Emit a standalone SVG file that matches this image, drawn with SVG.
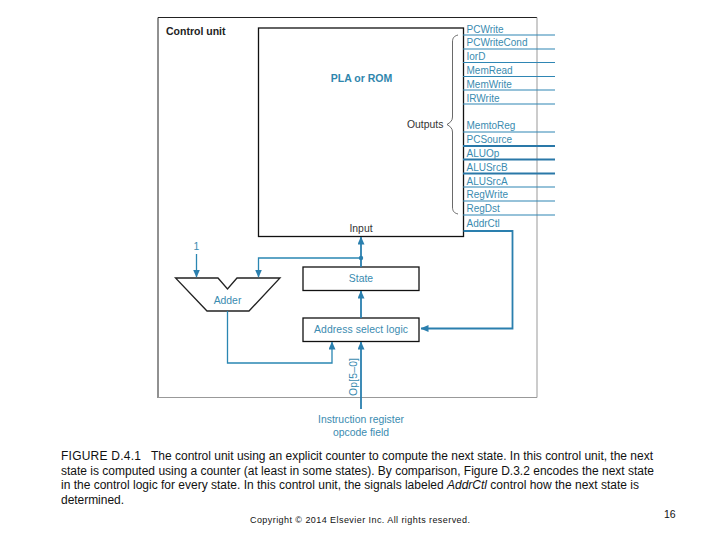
<svg xmlns="http://www.w3.org/2000/svg" width="720" height="540" viewBox="0 0 720 540">
<style>
text{font-family:"Liberation Sans",Arial,sans-serif}
.b{font-size:10px;fill:#3a8bb0}
.c{font-size:10.400px;fill:#3a8bb0}
.k{font-size:10.400px;fill:#333}
.t{font-size:12px;fill:#111}
.box{fill:#fff;stroke:#111;stroke-width:1.300}
.w{fill:none;stroke:#2a86b2;stroke-width:1.300}
.h{fill:none;stroke:#2a7fae;stroke-width:1.800}
.o{stroke:#2f86b4;stroke-width:1.100}
.ot{stroke:#2a78a8;stroke-width:1.800}
</style>
<defs>
<marker id="a" markerUnits="userSpaceOnUse" markerWidth="8" markerHeight="10" refX="7.500" refY="3.500" orient="auto"><path d="M0,0L8,3.500L0,7z" fill="#2a7fae"/></marker>
</defs>
<rect width="720" height="540" fill="#fff"/>
<g id="frame">
<path d="M158,398V17.500H537" fill="none" stroke="#222" stroke-width="1"/>
<path d="M537,17.500V397.500H158" fill="none" stroke="#999" stroke-width="1"/>
<text x="166" y="35" font-size="10.500" font-weight="bold" fill="#222">Control unit</text>
</g>
<g id="pla">
<rect class="box" x="258.500" y="28" width="205" height="208.500"/>
<text x="361.500" y="82" text-anchor="middle" font-size="10.500" font-weight="bold" fill="#2f86ad">PLA or ROM</text>
<text class="k" x="361" y="232" text-anchor="middle">Input</text>
<text class="k" x="407" y="128">Outputs</text>
<path d="M458,35C454,36 452.500,38 452.500,42V117C452.500,121 450,122.500 447,124.500C450,126.500 452.500,128 452.500,132V207C452.500,211 454,213 458,214" fill="none" stroke="#444" stroke-width="0.800"/>
</g>
<g id="outputs">
<path class="o" d="M463,35H555M463,49H555M463,62.500H555M463,76.500H555M463,90H555M463,104H555M463,132H555M463,187H555M463,201H555M463,215H555"/>
<path class="ot" d="M463,146H555M463,159.500H555M463,173.500H555"/>
<text class="b" x="466.500" y="32.500">PCWrite</text>
<text class="b" x="466.500" y="46">PCWriteCond</text>
<text class="b" x="466.500" y="60">IorD</text>
<text class="b" x="466.500" y="74">MemRead</text>
<text class="b" x="466.500" y="87.500">MemWrite</text>
<text class="b" x="466.500" y="101.500">IRWrite</text>
<text class="b" x="466.500" y="129">MemtoReg</text>
<text class="b" x="466.500" y="143">PCSource</text>
<text class="b" x="466.500" y="157">ALUOp</text>
<text class="b" x="466.500" y="170.500">ALUSrcB</text>
<text class="b" x="466.500" y="184.500">ALUSrcA</text>
<text class="b" x="466.500" y="198">RegWrite</text>
<text class="b" x="466.500" y="212">RegDst</text>
<text class="b" x="466.500" y="226.500">AddrCtl</text>
</g>
<g id="adder">
<path d="M175.500,278H218L227.500,289L237,278H280L249,311H207z" fill="#fff" stroke="#222" stroke-width="1.300"/>
<text class="c" x="227.500" y="303.500" text-anchor="middle">Adder</text>
<text class="c" x="196.500" y="250" text-anchor="middle">1</text>
</g>
<g id="state">
<rect class="box" x="303" y="267" width="116" height="23.500"/>
<text class="c" x="361" y="282" text-anchor="middle">State</text>
</g>
<g id="address">
<rect class="box" x="303" y="318" width="116" height="23.500"/>
<text class="c" x="361" y="332.500" text-anchor="middle" textLength="94">Address select logic</text>
</g>
<g id="opcode">
<text class="c" x="361" y="423" text-anchor="middle" textLength="86">Instruction register</text>
<text class="c" x="361" y="436" text-anchor="middle" textLength="56">opcode field</text>
<text class="c" transform="translate(356.500,396) rotate(-90)" textLength="38">Op[5–0]</text>
</g>
<g id="connectors">
<path class="w" d="M196.500,254V277" marker-end="url(#a)"/>
<path class="w" d="M361,258H258.500V277" marker-end="url(#a)"/>
<path class="h" d="M361,267V237" marker-end="url(#a)"/>
<circle cx="361" cy="258" r="2.200" fill="#2a7fae"/>
<path class="h" d="M361,318V291" marker-end="url(#a)"/>
<path class="h" d="M463.500,231H512.500V328.500H421" marker-end="url(#a)"/>
<path class="w" d="M227.500,311V363H332V342" marker-end="url(#a)"/>
<path class="h" d="M361,409V342" marker-end="url(#a)"/>
</g>
<g id="caption">
<text class="t" x="61" y="459.500" textLength="80">FIGURE D.4.1</text>
<text class="t" x="151" y="459.500" textLength="502">The control unit using an explicit counter to compute the next state. In this control unit, the next</text>
<text class="t" x="61" y="475" textLength="593">state is computed using a counter (at least in some states). By comparison, Figure D.3.2 encodes the next state</text>
<text class="t" x="61" y="488.500" textLength="578">in the control logic for every state. In this control unit, the signals labeled <tspan font-style="italic">AddrCtl</tspan> control how the next state is</text>
<text class="t" x="61" y="503.500" textLength="63">determined.</text>
<text x="250" y="523" font-size="9px" fill="#111" textLength="220">Copyright © 2014 Elsevier Inc. All rights reserved.</text>
<text x="664" y="518" font-size="10.500" fill="#111">16</text>
</g>
</svg>
